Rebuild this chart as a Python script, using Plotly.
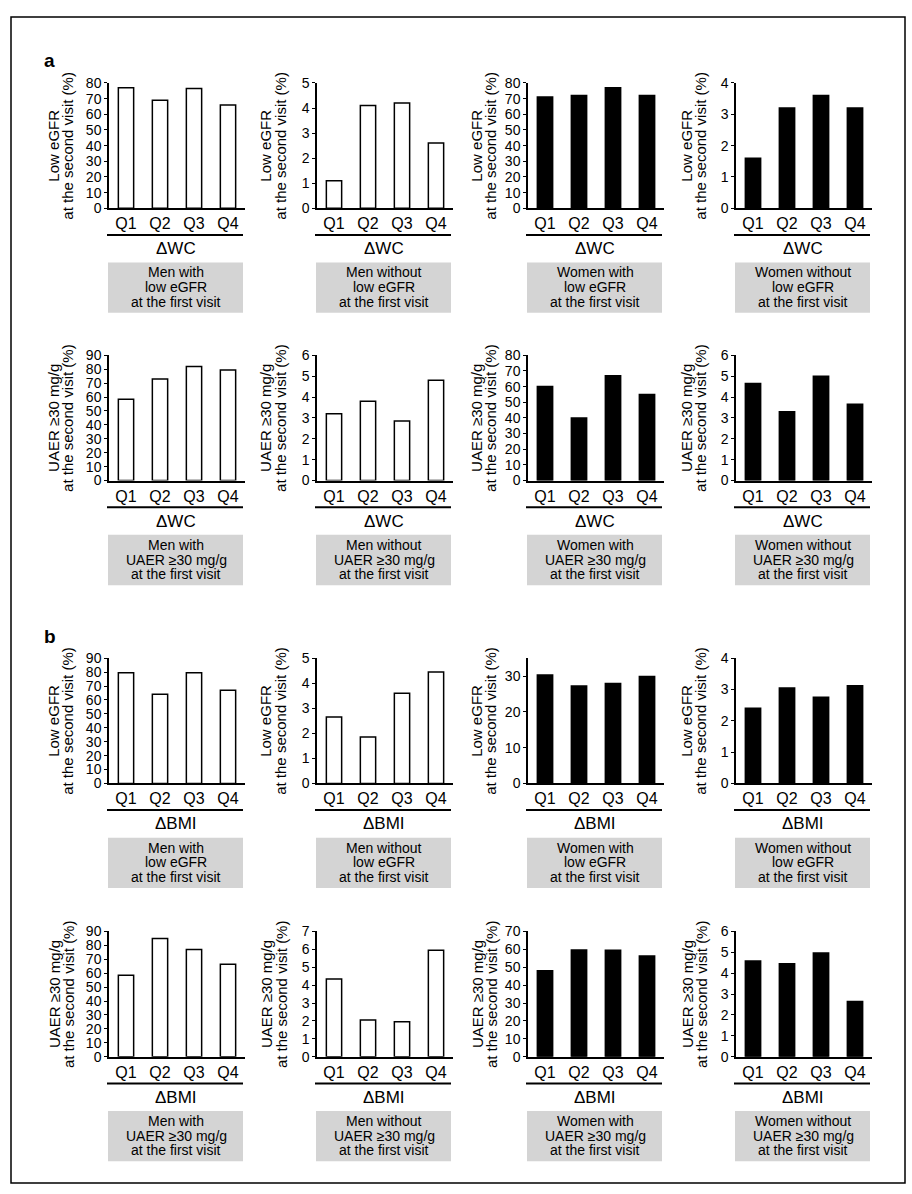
import plotly.graph_objects as go

W, H = 912, 1194

quartiles = ["Q1", "Q2", "Q3", "Q4"]

# a: quartiles of change in waist circumference (ΔWC)
wc_men_low_egfr = [77, 69, 76.5, 66]
wc_men_no_low_egfr = [1.1, 4.1, 4.2, 2.6]
wc_women_low_egfr = [71, 72, 77, 72]
wc_women_no_low_egfr = [1.6, 3.2, 3.6, 3.2]
wc_men_uaer = [58.5, 73, 82, 79.5]
wc_men_no_uaer = [3.2, 3.8, 2.85, 4.8]
wc_women_uaer = [60, 40, 67, 55]
wc_women_no_uaer = [4.65, 3.3, 5.0, 3.65]

# b: quartiles of change in body mass index (ΔBMI)
bmi_men_low_egfr = [79.5, 64, 79.5, 67]
bmi_men_no_low_egfr = [2.65, 1.85, 3.6, 4.45]
bmi_women_low_egfr = [30.3, 27.2, 27.9, 29.9]
bmi_women_no_low_egfr = [2.4, 3.05, 2.75, 3.12]
bmi_men_uaer = [58.5, 85, 77, 66.5]
bmi_men_no_uaer = [4.35, 2.05, 1.95, 5.95]
bmi_women_uaer = [48, 59.6, 59.5, 56.3]
bmi_women_no_uaer = [4.58, 4.45, 4.97, 2.65]

# y-axis upper limits, one row per line of panels
y_max = [
    [80, 5, 80, 4],
    [90, 6, 80, 6],
    [90, 5, 35, 4],
    [90, 7, 70, 6],
]

egfr_title = ["Low eGFR", "at the second visit (%)"]
uaer_title = ["UAER \u226530 mg/g", "at the second visit (%)"]

egfr_groups = [
    ["Men with", "low eGFR", "at the first visit"],
    ["Men without", "low eGFR", "at the first visit"],
    ["Women with", "low eGFR", "at the first visit"],
    ["Women without", "low eGFR", "at the first visit"],
]
uaer_groups = [
    ["Men with", "UAER \u226530 mg/g", "at the first visit"],
    ["Men without", "UAER \u226530 mg/g", "at the first visit"],
    ["Women with", "UAER \u226530 mg/g", "at the first visit"],
    ["Women without", "UAER \u226530 mg/g", "at the first visit"],
]

rows = [
    dict(series=[wc_men_low_egfr, wc_men_no_low_egfr, wc_women_low_egfr, wc_women_no_low_egfr],
         title=egfr_title, groups=egfr_groups, exposure="\u0394WC"),
    dict(series=[wc_men_uaer, wc_men_no_uaer, wc_women_uaer, wc_women_no_uaer],
         title=uaer_title, groups=uaer_groups, exposure="\u0394WC"),
    dict(series=[bmi_men_low_egfr, bmi_men_no_low_egfr, bmi_women_low_egfr, bmi_women_no_low_egfr],
         title=egfr_title, groups=egfr_groups, exposure="\u0394BMI"),
    dict(series=[bmi_men_uaer, bmi_men_no_uaer, bmi_women_uaer, bmi_women_no_uaer],
         title=uaer_title, groups=uaer_groups, exposure="\u0394BMI"),
]

# page geometry (pixels)
COL_LEFT = [109, 317, 528, 736]
ROW_TOP = [76, 352, 659, 936]
PW, PH = 136, 127
TITLE_OFFSETS = [(-55, -41), (-51, -36), (-51, -37), (-49, -35)]

NARROW = "Liberation Sans Narrow, Arial Narrow, Liberation Sans, Arial, sans-serif"
REGULAR = "Liberation Sans, Arial, sans-serif"


def fx(px):
    return px / W


def fy(py):
    return 1 - py / H


fig = go.Figure()
annotations = []
shapes = []

for r, row in enumerate(rows):
    for c in range(4):
        n = r * 4 + c + 1
        suffix = "" if n == 1 else str(n)
        left, top = COL_LEFT[c], ROW_TOP[r]
        right, bottom = left + PW, top + PH
        fill = "white" if c < 2 else "black"

        fig.add_trace(go.Bar(
            x=quartiles, y=row["series"][c],
            xaxis="x" + suffix, yaxis="y" + suffix,
            width=0.45,
            marker=dict(color=fill, line=dict(color="black", width=1.5)),
            showlegend=False, hoverinfo="x+y",
        ))

        fig.layout["xaxis" + suffix] = dict(
            domain=[fx(left), fx(right)], anchor="y" + suffix,
            type="category", range=[-0.5, 3.5],
            showline=True, linecolor="black", linewidth=1.5,
            ticks="", showgrid=False, zeroline=False, fixedrange=True,
            tickfont=dict(family=NARROW, size=16, color="black"),
        )
        ymax = y_max[r][c]
        fig.layout["yaxis" + suffix] = dict(
            domain=[fy(bottom), fy(top)], anchor="x" + suffix,
            range=[0, ymax], dtick=10 if ymax > 10 else 1,
            showline=True, linecolor="black", linewidth=1.5,
            ticks="outside", ticklen=3, tickcolor="black", tickwidth=1,
            showgrid=False, zeroline=False, fixedrange=True,
            tickfont=dict(family=NARROW, size=14, color="black"),
        )

        # rotated two-line y-axis title
        mid = (top + bottom) / 2
        for line, off in zip(row["title"], TITLE_OFFSETS[c]):
            annotations.append(dict(
                x=fx(left + off), y=fy(mid), xref="paper", yref="paper",
                text=line, textangle=-90, showarrow=False,
                xanchor="center", yanchor="middle",
                font=dict(family=REGULAR, size=15, color="black"),
            ))

        # rule under the quartile labels and exposure name
        shapes.append(dict(
            type="line", xref="paper", yref="paper",
            x0=fx(left - 2), x1=fx(right - 2),
            y0=fy(bottom + 27), y1=fy(bottom + 27),
            line=dict(color="black", width=2),
        ))
        annotations.append(dict(
            x=fx(left + PW / 2 - 1), y=fy(bottom + 41), xref="paper", yref="paper",
            text=row["exposure"], showarrow=False,
            xanchor="center", yanchor="middle",
            font=dict(family=NARROW, size=17, color="black"),
        ))

        # shaded group caption
        shapes.append(dict(
            type="rect", xref="paper", yref="paper",
            x0=fx(left - 1), x1=fx(right - 2),
            y0=fy(bottom + 55), y1=fy(bottom + 106),
            fillcolor="#d4d4d4", line=dict(width=0), layer="below",
        ))
        for k, line in enumerate(row["groups"][c]):
            annotations.append(dict(
                x=fx(left + PW / 2 - 1), y=fy(bottom + 65 + 15 * k),
                xref="paper", yref="paper",
                text=line, showarrow=False,
                xanchor="center", yanchor="middle",
                font=dict(family=NARROW, size=14, color="black"),
            ))

# panel letters
for letter, (lx, ly) in zip(["a", "b"], [(49, 53), (50, 637)]):
    annotations.append(dict(
        x=fx(lx), y=fy(ly), xref="paper", yref="paper",
        text="<b>" + letter + "</b>", showarrow=False,
        xanchor="center", yanchor="middle",
        font=dict(family=REGULAR, size=19, color="black"),
    ))

# outer frame
shapes.append(dict(
    type="rect", xref="paper", yref="paper",
    x0=fx(11), x1=fx(905), y0=fy(1191), y1=fy(9),
    line=dict(color="black", width=1.5), fillcolor="rgba(0,0,0,0)",
))

fig.update_layout(
    width=W, height=H,
    margin=dict(l=0, r=0, t=0, b=0),
    paper_bgcolor="white", plot_bgcolor="white",
    bargap=0.55,
    annotations=annotations, shapes=shapes,
    font=dict(family=NARROW, color="black"),
)

fig.write_html("out.html", config={"displayModeBar": False})
